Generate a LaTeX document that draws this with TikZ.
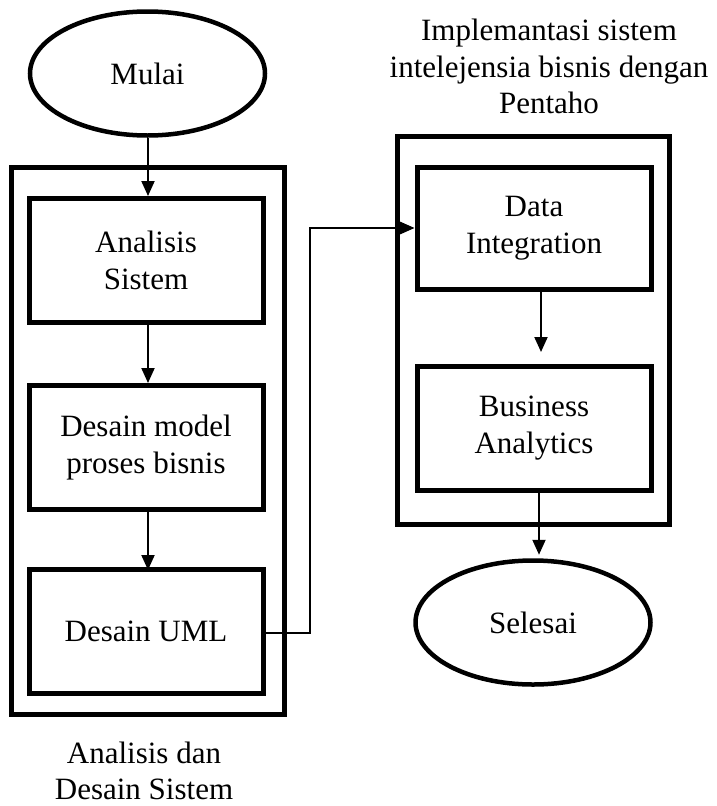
\documentclass[tikz,border=0pt]{standalone}
\usepackage{fontspec}
\setmainfont{Liberation Serif}
\usetikzlibrary{arrows.meta,shapes.geometric}

\tikzset{
  every node/.style={font=\fontsize{31}{36.5}\selectfont, align=center},
  procbox/.style={draw, rectangle, line width=5pt, minimum width=234pt, minimum height=124pt, inner sep=0pt},
  groupbox/.style={draw, rectangle, line width=5pt, inner sep=0pt},
  termnode/.style={draw, ellipse, line width=4.5pt, minimum width=235pt, minimum height=124pt, inner sep=0pt},
  flow/.style={line width=2pt, -{Triangle[width=13pt,length=15pt]}},
  link/.style={line width=1.3pt, -{Triangle[width=13pt,length=15pt]}},
  caption/.style={inner sep=0pt, anchor=north}
}

\begin{document}
\begin{tikzpicture}[x=1pt, y=1pt]
  \useasboundingbox (0,0) rectangle (716,-806);

  % container frames
  \node[groupbox, minimum width=273pt, minimum height=547pt] (leftframe) at (147.5,-440.5) {};
  \node[groupbox, minimum width=272pt, minimum height=388pt] (rightframe) at (533,-330) {};

  % start / end
  \node[termnode] (Mulai) at (147.5,-73.5) {Mulai};
  \node[termnode] (Selesai) at (533,-622.5) {Selesai};

  % analysis and design steps
  \node[procbox] (Analisis) at (146,-260.5) {Analisis\\Sistem};
  \node[procbox] (Model) at (146,-447.5) {Desain model\\proses bisnis};
  \node[procbox] (UML) at (146,-631.5) {Desain UML};

  % implementation steps
  \node[procbox, minimum height=122pt] (DI) at (534,-228) {Data\\Integration};
  \node[procbox] (BA) at (534,-428) {Business\\Analytics};

  % group captions
  \node[caption] (toptitle) at (549,-18.8) {Implemantasi sistem\\intelejensia bisnis dengan\\Pentaho};
  \node[caption] (bottomtitle) at (144,-741.5) {Analisis dan\\Desain Sistem};

  % flow arrows
  \draw[flow] ([xshift=0.5pt]Mulai.south) -- ([xshift=0.5pt]Mulai.south |- Analisis.north);
  \draw[flow] ([xshift=2pt]Analisis.south) -- ([xshift=2pt]Model.north);
  \draw[flow] ([xshift=2pt]Model.south) -- ([xshift=2pt,yshift=-3pt]UML.north);
  \draw[flow, shorten >=11.5pt] ([xshift=7pt]DI.south) -- ([xshift=7pt]BA.north);
  \draw[flow, shorten >=3.5pt] ([xshift=5pt]BA.south) -- ([xshift=5pt]BA.south |- Selesai.north);

  % link between the two groups
  \coordinate (bend) at (310,-430);
  \draw[link] ([yshift=-1.5pt]UML.east) -| (bend) |- (DI.west);
\end{tikzpicture}
\end{document}
